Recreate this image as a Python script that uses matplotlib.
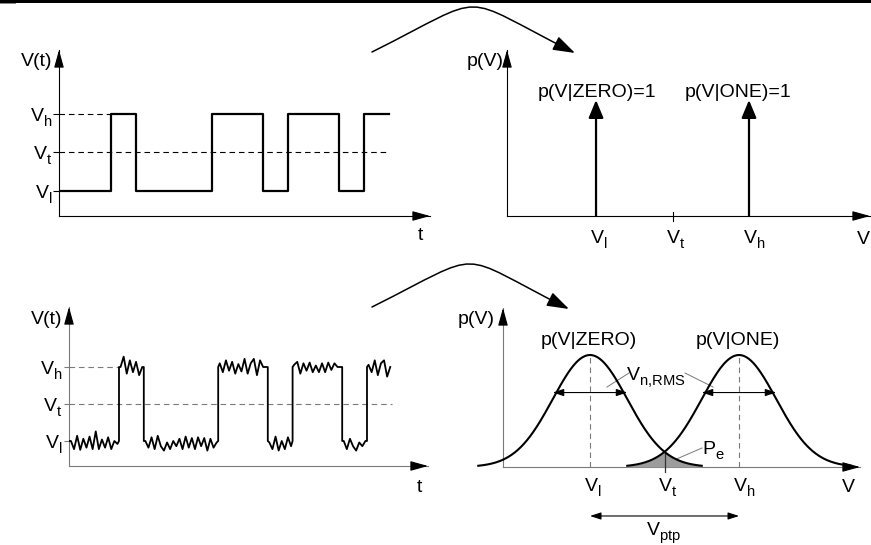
import numpy as np
import matplotlib.pyplot as plt
import matplotlib._mathtext as mtext
from matplotlib.patches import FancyArrowPatch, Rectangle
from matplotlib.path import Path

plt.rcParams['font.family'] = ['Liberation Sans', 'DejaVu Sans']
plt.rcParams['mathtext.fontset'] = 'custom'
plt.rcParams['mathtext.rm'] = 'Liberation Sans'
plt.rcParams['mathtext.it'] = 'Liberation Sans:italic'
plt.rcParams['mathtext.default'] = 'regular'
# bigger, lower subscripts like the drawing
mtext.SHRINK_FACTOR = 0.76
mtext.FontConstantsBase.sub1 = 0.55

# bit sequence shown in both waveforms
bits = [0, 0, 1, 0, 0, 0, 1, 1, 0, 1, 1, 0, 1]
V_l, V_t, V_h = 0.0, 0.5, 1.0
level_labels = [r'$V_l$', r'$V_t$', r'$V_h$']

# noise on the lower waveform, 8 samples per bit (in units of V_h - V_l)
noise = [
    [0.00, -0.11, 0.07, -0.12, 0.03, -0.09, 0.06, -0.11],
    [0.13, -0.11, 0.02, -0.09, 0.05, -0.11, 0.00, -0.04],
    [0.00, 0.14, -0.09, 0.09, -0.07, 0.07, -0.11, 0.00],
    [0.00, -0.09, 0.05, -0.11, 0.07, -0.07, -0.13, -0.02],
    [-0.11, 0.00, -0.07, 0.03, -0.11, 0.06, -0.09, 0.04],
    [-0.11, 0.05, -0.07, 0.04, -0.13, 0.03, -0.09, -0.02],
    [0.05, -0.07, 0.09, -0.05, 0.07, -0.09, 0.04, -0.06],
    [0.11, -0.09, 0.05, 0.11, -0.11, 0.09, 0.00, 0.00],
    [-0.02, -0.11, 0.06, -0.13, 0.00, -0.11, 0.05, -0.07],
    [0.03, 0.07, -0.09, 0.05, -0.05, 0.06, -0.07, 0.02],
    [-0.07, 0.05, -0.07, 0.06, -0.04, 0.05, 0.00, 0.00],
    [0.00, -0.11, 0.03, -0.07, -0.13, -0.02, -0.07, 0.00],
    [0.03, -0.07, 0.09, -0.11, 0.05, 0.09, -0.13, 0.00],
]

# conditional densities p(V|ZERO), p(V|ONE)
mu_zero, mu_one = V_l, V_h
sigma = 0.25
impulse_height = 1.0

W, H = 871, 545
fs = 14
gray = '#7a7a7a'
dash = (0, (5, 3.5))

fig = plt.figure(figsize=(W / 100, H / 100), dpi=100)
base = fig.add_axes([0, 0, 1, 1])
base.set_xlim(0, W)
base.set_ylim(H, 0)
base.axis('off')


def panel(l, t, r, b):
    ax = fig.add_axes([l / W, 1 - b / H, (r - l) / W, (b - t) / H])
    ax.patch.set_visible(False)
    for s in ax.spines.values():
        s.set_visible(False)
    ax.set_xticks([])
    ax.set_yticks([])
    return ax


def axis_arrows(ax, color):
    kw = dict(transform=ax.transAxes, color=color, lw=0.8, clip_on=False)
    ax.plot([0, 0], [0, 1], **kw)
    ax.plot([0, 1], [0, 0], **kw)
    head = '-|>,head_length=0.72,head_width=0.2'
    for tip, back in [((0, 1), (0, -14)), ((1, 0), (-14, 0))]:
        ax.annotate('', xy=tip, xycoords='axes fraction', xytext=back,
                    textcoords='offset pixels',
                    arrowprops=dict(arrowstyle=head, color='k', lw=0.8,
                                    shrinkA=0, shrinkB=0, mutation_scale=15))


def level_ticks(ax, color, length, pad):
    ax.set_yticks([V_l, V_t, V_h], level_labels)
    ax.tick_params(axis='y', length=length, width=0.8, color=color,
                   pad=pad, labelsize=fs)


def xlabels(ax, drop):
    for v, lab in zip([V_l, V_t, V_h], level_labels):
        ax.annotate(lab, xy=(v, 0), xytext=(-6.5, -drop), textcoords='offset pixels',
                    ha='left', va='baseline', fontsize=fs, annotation_clip=False)


levels = [V_h if b else V_l for b in bits]

# ---- (top left) ideal waveform
axA = panel(59, 50, 430, 216)
axA.set_xlim(-0.055, 14.61)
axA.set_ylim(-0.325, 1.831)
axis_arrows(axA, 'k')
level_ticks(axA, 'k', 4.3, 0.5)
x0 = axA.get_xlim()[0]
axA.plot([x0, 2], [V_h, V_h], color='k', lw=0.8, ls=dash)
axA.plot([x0, len(bits)], [V_t, V_t], color='k', lw=0.8, ls=dash)
axA.step(np.arange(len(bits) + 1), levels + [levels[-1]], where='post',
         color='k', lw=1.6)

# ---- (top right) noiseless densities
axB = panel(507, 50, 870, 216)
axB.set_xlim(-0.582, 1.791)
axB.set_ylim(0, 1.431)
axis_arrows(axB, 'k')
for v in [V_l, V_h]:
    axB.annotate('', xy=(v, impulse_height), xytext=(v, 0),
                 arrowprops=dict(arrowstyle='-|>,head_length=0.72,head_width=0.3',
                                 mutation_scale=15, lw=1.6, color='k',
                                 shrinkA=0, shrinkB=0))
axB.annotate('p(V|ZERO)=1', xy=(V_l, impulse_height), xytext=(1, 3),
             textcoords='offset pixels', ha='center', va='baseline', fontsize=fs)
axB.annotate('p(V|ONE)=1', xy=(V_h, impulse_height), xytext=(-11, 3),
             textcoords='offset pixels', ha='center', va='baseline', fontsize=fs)
axB.plot([V_t, V_t], [-0.043, 0.034], color='k', lw=0.8, clip_on=False)
xlabels(axB, 27.5)

# ---- (bottom left) noisy waveform
axC = panel(69, 307, 428, 466)
axC.set_xlim(-0.016, 14.46)
axC.set_ylim(-0.338, 1.811)
axis_arrows(axC, gray)
level_ticks(axC, gray, 3.6, 1.2)
x0 = axC.get_xlim()[0]
axC.plot([x0, 2], [V_h, V_h], color=gray, lw=0.8, ls=dash)
axC.plot([x0, len(bits)], [V_t, V_t], color=gray, lw=0.8, ls=dash)
xs, ys = [], []
n = len(noise[0])
for i, lev in enumerate(levels):
    if i == 0 or levels[i - 1] != lev:
        xs.append(i)
        ys.append(lev)
    for k in range(n):
        xs.append(i + (k + 0.5) / n)
        ys.append(lev + noise[i][k])
    if i < len(levels) - 1 and levels[i + 1] != lev:
        xs.append(i + 1)
        ys.append(lev)
axC.plot(xs, ys, color='k', lw=1.3)

# ---- (bottom right) gaussian densities
axD = panel(503, 308, 860, 467)
axD.set_xlim(-0.584, 1.812)
axD.set_ylim(0, 1.420)
axis_arrows(axD, gray)


def gauss(v, mu):
    return np.exp(-0.5 * ((v - mu) / sigma) ** 2)


for mu in [mu_zero, mu_one]:
    v = np.linspace(mu - 3 * sigma, mu + 3 * sigma, 300)
    axD.plot(v, gauss(v, mu), color='k', lw=1.5, clip_on=False, zorder=3)
    axD.plot([mu, mu], [0, 1], color=gray, lw=0.8, ls=dash)
    axD.annotate('', xy=(mu + sigma, 0.665), xytext=(mu - sigma, 0.665),
                 arrowprops=dict(arrowstyle='<|-|>,head_length=0.55,head_width=0.18',
                                 mutation_scale=12, lw=0.8, color='k',
                                 shrinkA=0, shrinkB=0))
v = np.linspace(mu_one - 3 * sigma, mu_zero + 3 * sigma, 200)
axD.fill_between(v, 0, np.minimum(gauss(v, mu_zero), gauss(v, mu_one)),
                 color='#9c9c9c', lw=0, zorder=2)
axD.plot([V_t, V_t], [gauss(V_t, mu_zero), -0.045], color='#333333', lw=0.9,
         clip_on=False)
xlabels(axD, 24.5)
axD.annotate('', xy=(V_h, -0.4375), xytext=(V_l, -0.4375), annotation_clip=False,
             arrowprops=dict(arrowstyle='<|-|>,head_length=0.55,head_width=0.18',
                             mutation_scale=12, lw=0.8, color='k',
                             shrinkA=0, shrinkB=0))

# ---- labels in figure pixels
txt = dict(fontsize=fs)
base.text(52, 62, 'V(t)', ha='right', va='center', **txt)
base.text(420.5, 240, 't', ha='center', va='baseline', **txt)
base.text(504, 62, 'p(V)', ha='right', va='center', **txt)
base.text(863, 243.5, 'V', ha='center', va='baseline', **txt)
base.text(62, 319, 'V(t)', ha='right', va='center', **txt)
base.text(419.5, 492, 't', ha='center', va='baseline', **txt)
base.text(495, 320, 'p(V)', ha='right', va='center', **txt)
base.text(589, 345, 'p(V|ZERO)', ha='center', va='baseline', **txt)
base.text(738, 345, 'p(V|ONE)', ha='center', va='baseline', **txt)
base.text(626, 381, r'$V_{n{,}RMS}$', ha='left', va='baseline', **txt)
base.text(702, 454, r'$P_e$', ha='left', va='baseline', **txt)
base.text(848, 491.5, 'V', ha='center', va='baseline', **txt)
base.text(646, 535, r'$V_{ptp}$', ha='left', va='baseline', **txt)

# leader lines
lk = dict(color=gray, lw=0.7)
base.plot([629, 607], [373, 387], **lk)
base.plot([685, 713], [373, 387], **lk)
base.plot([702, 672], [448, 461], **lk)

# curved arrows between the rows
for (xa, ya), (xb, yb), a in [((372, 52), (575, 53), 121),
                              ((372, 307), (569, 309), 117)]:
    path = Path([(xa, ya), (xa + a, ya - a / 2), (xb - a, yb - a / 2), (xb, yb)],
                [Path.MOVETO, Path.CURVE4, Path.CURVE4, Path.CURVE4])
    base.add_patch(FancyArrowPatch(path=path,
                                   arrowstyle='-|>,head_length=0.9,head_width=0.3',
                                   mutation_scale=15, lw=1.1, color='k'))

# black strip at the top edge
base.add_patch(Rectangle((0, 0), W, 3.3, color='k', lw=0))
base.add_patch(Rectangle((0, 3.3), 16, 1, color='#888888', lw=0))

fig.savefig('out.png', dpi=100)
